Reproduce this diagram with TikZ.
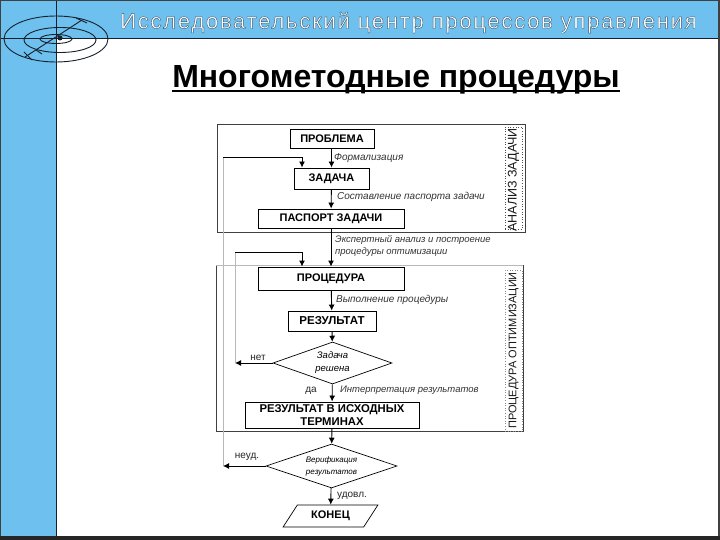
\documentclass[tikz,border=0pt]{standalone}
\usepackage{fontspec}
\setmainfont{Liberation Sans}
\usetikzlibrary{arrows.meta,shapes.geometric}
\definecolor{band}{HTML}{6EC1EE}
\definecolor{ink}{HTML}{14202C}
\definecolor{soft}{HTML}{B8B8B8}
\newcommand{\outlined}[1]{\special{pdf:code 0.25 0.33 0.42 RG 2 Tr 0.4 w}#1\special{pdf:code 0 Tr}}
\tikzset{
  bx/.style={draw=black,line width=0.9pt,fill=white,inner sep=0pt,align=center,font=\bfseries\fontsize{11}{13}\selectfont},
  dia/.style={draw=black,line width=0.7pt,fill=white,diamond,aspect=2.8,inner sep=0pt,align=center,font=\itshape\fontsize{9.5}{13}\selectfont},
  lab/.style={anchor=west,inner sep=0pt,align=left,font=\itshape\fontsize{10}{12}\selectfont,text=black!80},
  plain/.style={inner sep=0pt,font=\fontsize{10}{12}\selectfont,text=black!85},
  arr/.style={draw=black,line width=0.9pt,-{Latex[length=6pt,width=6pt]}},
  frm/.style={draw=black!75,line width=0.7pt},
  softline/.style={draw=soft,line width=1pt},
  strip/.style={draw=black!70,dotted,line width=0.6pt,fill=white,inner sep=0pt},
  side/.style={rotate=90,inner sep=0pt,font=\fontsize{11}{13}\selectfont,text=black!90},
  ring/.style={draw=ink,line width=0.9pt},
}
\begin{document}
\begin{tikzpicture}[x=1pt,y=-1pt]
\useasboundingbox (0,0) rectangle (720,540);
% page
\fill[white] (0,0) rectangle (720,540);
\fill[band] (0,0) rectangle (720,38);
\fill[band] (0,0) rectangle (56,540);
\draw[ink,line width=0.9pt] (0,38) -- (720,38);
\draw[ink,line width=1pt] (56,0) -- (56,540);
\draw[black!75,line width=2pt] (0,0) rectangle (719,540);
\fill[black!85] (0,536) rectangle (720,540);
% emblem
\draw[ring] (56,39) ellipse [x radius=52,y radius=23];
\draw[ring] (60,40) ellipse [x radius=36,y radius=12.5];
\draw[ring] (56,39) ellipse [x radius=16,y radius=4.5];
\draw[ring] (25,57) -- (82,20);
\draw[ring] (32,60) -- (24,52);
\draw[ring] (36,50) -- (42,54);
\draw[ring] (76,18) -- (87,23);
\fill[ink] (60,38) circle [radius=2.5];
% header
\node[anchor=base west,inner sep=0pt,text=white,font=\fontsize{22}{26}\selectfont\addfontfeatures{LetterSpace=8}] (head) at (120,28.5)
  {\outlined{Исследовательский центр процессов управления}};
\node[anchor=base,inner sep=0pt,font=\bfseries\fontsize{32}{36}\selectfont] (title) at (396,87.5) {Многометодные процедуры};
\draw[black,line width=1.5pt] (172,91) -- (620,91);
% frames
\draw[frm] (217,124) rectangle (525,232);
\node[strip,minimum width=17pt,minimum height=102pt] (s1) at (513.5,178) {};
\node[side,font=\fontsize{12.5}{14}\selectfont] (s1t) at (513.5,180) {АНАЛИЗ ЗАДАЧИ};
\draw[frm] (216,431) -- (216,265);
\draw[frm] (523,265) -- (523,431) -- (216,431);
\draw[softline] (216,265) -- (523,265);
\node[strip,draw=black!45,minimum width=17pt,minimum height=161pt] (s2) at (513.5,350.5) {};
\node[side] (s2t) at (s2.center) {ПРОЦЕДУРА ОПТИМИЗАЦИИ};
% boxes
\node[bx,minimum width=84pt,minimum height=19pt] (prob) at (332,139) {ПРОБЛЕМА};
\node[bx,minimum width=75pt,minimum height=21pt] (task) at (331.5,178.5) {ЗАДАЧА};
\node[bx,minimum width=146pt,minimum height=19pt] (pass) at (331,218.5) {ПАСПОРТ ЗАДАЧИ};
\node[bx,minimum width=146pt,minimum height=23pt] (proc) at (331,278.5) {ПРОЦЕДУРА};
\node[bx,minimum width=88pt,minimum height=20pt,font=\bfseries\fontsize{11.5}{14}\selectfont] (res) at (332,321) {РЕЗУЛЬТАТ};
\node[dia,minimum width=119pt,minimum height=42pt] (d1) at (332.5,363) {Задача\\решена};
\node[bx,minimum width=174pt,minimum height=26pt,font=\bfseries\fontsize{11.3}{13}\selectfont] (final) at (332,415) {РЕЗУЛЬТАТ В ИСХОДНЫХ\\ТЕРМИНАХ};
\node[dia,minimum width=131pt,minimum height=44pt,font=\itshape\fontsize{8}{12}\selectfont] (d2) at (331.5,466) {Верификация\\результатов};
\node[draw=black,line width=0.7pt,trapezium,trapezium left angle=50,trapezium right angle=130,
  inner sep=0pt,minimum height=22pt,minimum width=95pt,trapezium stretches=true,font=\bfseries\fontsize{11}{13}\selectfont] (end) at (330.5,516) {КОНЕЦ};
% feedback rails
\coordinate (r1) at (223,157);
\coordinate (r1a) at (302,157);
\coordinate (r2) at (235,252);
\coordinate (r2a) at (302,252);
\coordinate (r1b) at (223,466);
\coordinate (r2b) at (235,363);
\draw[softline] (r1) -- (r1b);
\draw[softline] (r2) -- (r2b);
\draw[arr] (r1) -- (r1a) -- (r1a |- task.north);
\draw[arr] (r2) -- (r2a) -- (r2a |- proc.north);
% main flow
\draw[arr] (prob.south -| task.north) -- (task.north);
\draw[arr] (task) -- (pass);
\draw[arr] (pass) -- (proc);
\draw[arr] (proc) -- (res);
\draw[arr] (res) -- (d1);
\draw[arr] (d1) -- (final);
\draw[arr] (final) -- (d2);
\draw[arr] (d2) -- (end);
\draw[arr] (d1.west) -- (r2b);
\draw[arr] (d2.west) -- (r1b);
% labels
\node[lab] (l1) at (334,158) {Формализация};
\node[lab] (l2) at (337,197) {Составление паспорта задачи};
\node[lab,font=\itshape\fontsize{9.5}{12}\selectfont] (l3) at (335,246) {Экспертный анализ и построение\\процедуры оптимизации};
\node[lab] (l4) at (336,300) {Выполнение процедуры};
\node[lab,font=\itshape\fontsize{9.5}{12}\selectfont] (l5) at (340,390) {Интерпретация результатов};
\node[plain] (no) at (258,358) {нет};
\node[plain] (yes) at (311,391) {да};
\node[plain] (bad) at (247,457) {неуд.};
\node[plain] (ok) at (352,496) {удовл.};
\end{tikzpicture}
\end{document}
